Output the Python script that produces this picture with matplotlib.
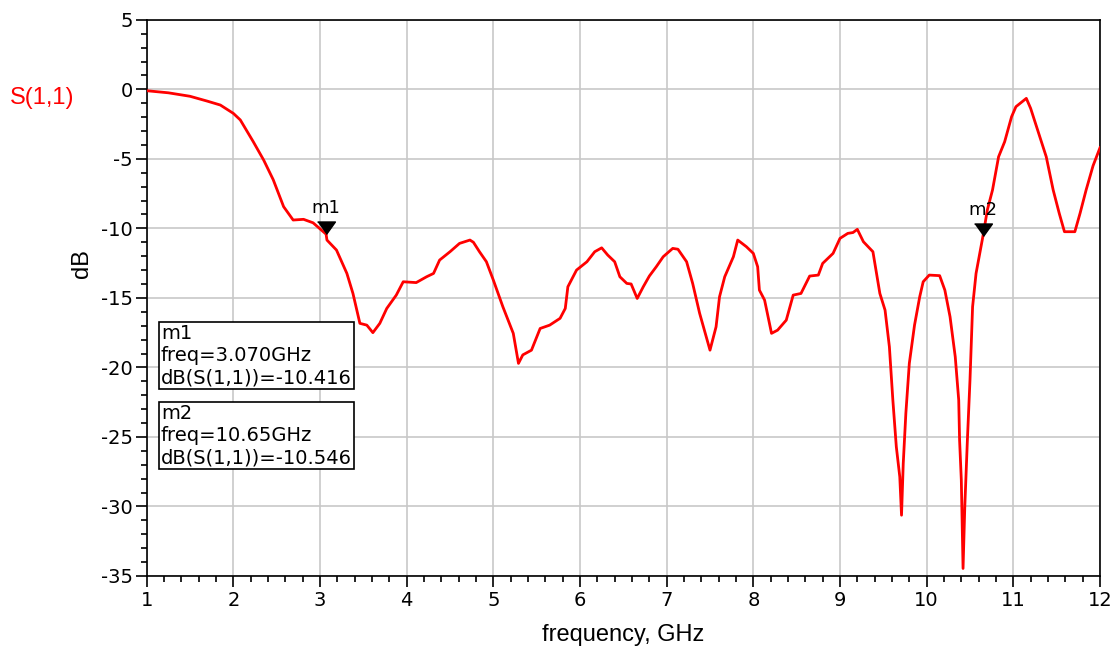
import matplotlib.pyplot as plt
from matplotlib.ticker import MultipleLocator

# S(1,1) in dB
freq = [1.0, 1.25, 1.5, 1.7, 1.85, 2.0, 2.08, 2.23, 2.35, 2.46, 2.58, 2.69, 2.81, 2.92, 3.07,
        3.08, 3.19, 3.31, 3.38, 3.46, 3.54, 3.61, 3.69, 3.77, 3.88, 3.96, 4.11,
        4.23, 4.31, 4.38, 4.5, 4.61, 4.73, 4.77, 4.84, 4.92, 5.0, 5.11, 5.23,
        5.29, 5.34, 5.44, 5.54, 5.65, 5.77, 5.83, 5.86, 5.96, 6.08, 6.17, 6.25,
        6.32, 6.4, 6.46, 6.54, 6.59, 6.66, 6.73, 6.8, 6.88, 6.96, 7.07, 7.13,
        7.23, 7.3, 7.38, 7.5, 7.57, 7.61, 7.67, 7.77, 7.82, 7.92, 8.0, 8.05,
        8.07, 8.13, 8.21, 8.28, 8.38, 8.46, 8.55, 8.65, 8.75, 8.8, 8.92, 9.0,
        9.09, 9.15, 9.2, 9.27, 9.38, 9.46, 9.52, 9.57, 9.61, 9.65, 9.69, 9.71,
        9.73, 9.76, 9.8, 9.86, 9.92, 9.96, 10.03, 10.15, 10.21, 10.27, 10.33,
        10.37, 10.38, 10.4, 10.42, 10.44, 10.47, 10.5, 10.53, 10.57, 10.65,
        10.7, 10.76, 10.83, 10.9, 10.98, 11.03, 11.08, 11.15, 11.2, 11.3,
        11.38, 11.46, 11.53, 11.59, 11.71, 11.77, 11.84, 11.92, 12.0]
s11 = [-0.1, -0.25, -0.5, -0.85, -1.13, -1.73, -2.2, -3.77, -5.09, -6.5, -8.44, -9.4, -9.35, -9.6, -10.416,
       -10.84, -11.56, -13.24, -14.68, -16.83, -16.96, -17.5, -16.83, -15.76, -14.8, -13.84, -13.9,
       -13.48, -13.24, -12.28, -11.68, -11.08, -10.84, -11.0, -11.68, -12.4, -13.72, -15.64, -17.55,
       -19.71, -19.1, -18.76, -17.2, -16.96, -16.47, -15.76, -14.2, -13.0, -12.4, -11.68, -11.4,
       -11.92, -12.4, -13.48, -13.96, -14.0, -15.04, -14.2, -13.43, -12.76, -12.04, -11.44, -11.5,
       -12.4, -13.96, -16.1, -18.76, -17.08, -14.92, -13.48, -12.04, -10.84, -11.32, -11.8, -12.76,
       -14.44, -15.16, -17.55, -17.32, -16.6, -14.8, -14.68, -13.43, -13.36, -12.52, -11.8, -10.72,
       -10.36, -10.3, -10.07, -10.96, -11.68, -14.68, -15.88, -18.52, -22.35, -25.71, -27.87, -30.63,
       -26.9, -23.3, -19.71, -16.96, -14.92, -13.84, -13.36, -13.4, -14.44, -16.36, -19.24,
       -22.35, -25.23, -28.11, -34.46, -30.03, -25.23, -20.91, -15.64, -13.24, -10.546,
       -8.68, -7.24, -4.85, -3.77, -1.97, -1.25, -1.0, -0.65, -1.37, -3.29,
       -4.85, -7.24, -8.92, -10.24, -10.24, -8.92, -7.24, -5.5, -4.2]

markers = ["m1", "m2"]
marker_freq = [3.070, 10.65]
marker_db = [-10.416, -10.546]
marker_freq_txt = ["3.070GHz", "10.65GHz"]

plt.rcParams['font.family'] = ['DejaVu Sans']
plt.rcParams['axes.unicode_minus'] = False
label_font = ['Liberation Sans', 'DejaVu Sans']

fig = plt.figure(figsize=(11.13, 6.56), dpi=100)
ax = fig.add_axes([0.1318, 0.122, 0.8565, 0.8478])

ax.plot(freq, s11, color='red', lw=2, zorder=3)

# downward triangle with its tip on the data point
tri = [(-1, 1.4), (1, 1.4), (0, 0)]
for name, f, d in zip(markers, marker_freq, marker_db):
    ax.plot([f], [d], marker=tri, markersize=18, color='black', linestyle='none', zorder=4)
    ax.annotate(name, (f, d), xytext=(0, 12), textcoords='offset points',
                ha='center', va='bottom', fontsize=13)

ax.set_xlim(1, 12)
ax.set_ylim(-35, 5)
ax.xaxis.set_major_locator(MultipleLocator(1))
ax.xaxis.set_minor_locator(MultipleLocator(0.2))
ax.yaxis.set_major_locator(MultipleLocator(5))
ax.yaxis.set_minor_locator(MultipleLocator(1))
ax.tick_params(which='major', direction='out', length=8, width=1.2, labelsize=14)
ax.tick_params(which='minor', direction='out', length=4, width=1.2)
ax.tick_params(axis='x', pad=3)
ax.tick_params(axis='y', pad=2)
ax.grid(which='major', color='#c8c8c8', lw=1.2)
ax.set_axisbelow(True)
for sp in ax.spines.values():
    sp.set_linewidth(1.2)

ax.set_xlabel('frequency, GHz', fontsize=17, labelpad=10, family=label_font)
ax.set_ylabel('dB', fontsize=17, family=label_font)
ax.yaxis.set_label_coords(-0.056, 0.561)
fig.text(0.009, 0.85, 'S(1,1)', color='red', fontsize=17, ha='left', va='center',
         family=label_font)

# marker readout boxes
box_y = [0.453, 0.309]
for name, ft, d, y in zip(markers, marker_freq_txt, marker_db, box_y):
    ax.text(0.015, y, f"{name}\nfreq={ft}\ndB(S(1,1))={d:.3f}",
            transform=ax.transAxes, fontsize=14, va='top', ha='left', linespacing=1.2,
            bbox=dict(boxstyle='square,pad=0.12', fc='white', ec='black', lw=1.2), zorder=5)

fig.savefig('out.png', dpi=100)
